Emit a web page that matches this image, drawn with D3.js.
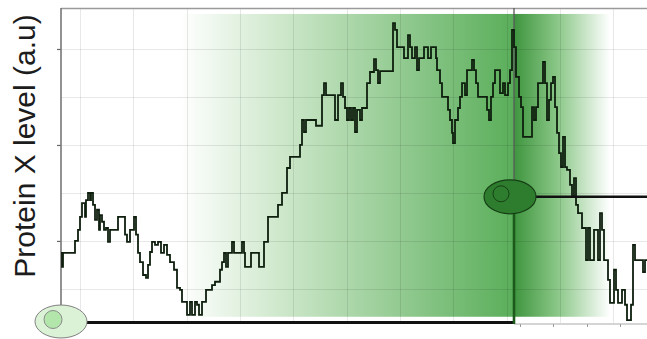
<!DOCTYPE html>
<html>
<head>
<meta charset="utf-8">
<script src="https://cdn.jsdelivr.net/npm/d3@7"></script>
<style>
  html, body { margin: 0; padding: 0; background: #fff; }
  svg { display: block; }
</style>
</head>
<body>
<svg id="chart" width="647" height="339"></svg>
<script>
// Time points (arbitrary minutes) and protein X level (a.u.) of one cell trace
const times = [0,1,2,12,14,17,19,21,23,24,25,27,29,30,32,34,36,38,39,41,43,45,47,49,53,57,61,64,66,69,73,75,77,79,82,85,87,89,91,94,97,100,103,106,109,113,116,119,121,124,126,129,131,134,136,138,141,143,145,148,151,154,157,159,161,163,165,167,171,173,181,183,184,189,190,197,198,201,203,207,215,217,221,225,226,229,237,239,241,243,245,251,255,261,263,265,271,274,277,280,282,284,286,288,290,292,294,296,299,301,306,309,313,315,317,319,331,332,334,336,341,343,346,347,349,351,354,356,358,361,363,366,367,370,373,375,376,379,381,385,387,389,391,392,394,397,399,401,404,406,410,411,413,415,417,424,426,428,430,432,434,437,439,442,444,447,449,451,453,455,458,460,462,469,471,473,475,477,480,482,484,486,488,490,492,494,496,498,500,502,504,506,509,511,513,515,517,519,521,523,525,527,529,531,533,535,537,539,541,543,545,547,549,551,553,555,557,559,561,563,564,566,568,570,572,574,580,582,584,586];
const levels = [1.75,1.46,1.75,1.75,2.00,2.23,2.50,2.79,2.79,2.50,2.85,3.00,2.85,3.00,2.75,2.44,2.65,2.23,2.54,2.40,2.23,2.27,1.98,2.23,2.23,2.50,2.50,2.13,1.98,2.23,2.50,2.13,1.75,1.56,1.29,1.23,1.50,1.77,1.98,1.92,1.98,1.75,1.92,1.71,1.56,1.40,1.02,0.98,0.73,0.73,0.46,0.73,0.46,0.73,0.67,0.46,0.73,0.73,0.98,0.98,1.08,1.15,1.15,1.40,1.56,1.75,1.46,1.75,1.98,1.75,1.98,1.75,1.46,1.46,1.75,1.75,1.46,1.46,1.98,2.50,2.50,2.75,3.00,3.00,3.52,3.75,3.75,4.00,4.52,4.27,4.52,4.52,4.40,5.04,5.29,5.04,5.04,4.52,5.04,5.29,5.00,4.77,4.52,4.77,4.52,4.77,4.27,4.73,4.52,4.77,5.29,5.52,5.79,5.56,5.29,5.54,5.54,6.54,6.40,6.04,6.04,5.81,5.81,6.29,6.04,5.81,6.04,5.56,5.81,5.81,6.04,6.04,5.81,6.04,6.04,5.81,5.56,5.29,5.00,5.00,4.73,4.52,4.25,4.04,4.52,4.77,5.00,5.29,5.04,5.56,5.56,5.77,5.56,5.29,5.00,5.00,4.73,4.52,5.00,5.29,5.56,5.56,5.08,5.29,5.04,5.29,5.56,6.40,6.04,5.42,5.00,4.79,4.17,4.17,4.79,4.52,4.79,5.29,5.29,5.73,5.29,4.52,4.94,5.29,5.42,4.79,4.25,3.83,3.54,4.17,3.54,3.48,3.17,2.92,3.31,2.75,2.58,2.58,2.27,2.27,1.60,2.27,1.60,1.60,2.23,2.23,1.60,2.58,2.23,1.60,1.60,1.19,0.71,0.71,1.40,0.98,0.71,0.71,0.98,0.98,0.67,0.35,0.35,0.67,1.92,1.60,1.60,1.35,1.60,1.60];

// Axis settings
const yTickValues = [2, 4, 6];
const yGridValues = [1, 2, 3, 4, 5, 6];
const xGridValues = [19, 72, 126, 179, 232, 286, 339, 392, 446, 499, 552];
const xTickValues = [459, 492, 526, 559];

// Marked events: start of trace, threshold crossing, and the induction window
const startTime = 0;
const crossTime = 449;
const thresholdLevel = 2.92;
const windowStart = 119;
const windowPeak = 453;
const windowEnd = 549;
const windowTop = 6.73;
const windowBottom = 0.42;
const yLabel = "Protein X level (a.u)";

const svg = d3.select("#chart");
const x = d3.scaleLinear().domain([0, 586]).range([61, 647]);
const y = d3.scaleLinear().domain([0.29, 6.854]).range([323, 8]);

const defs = svg.append("defs");
const gRise = defs.append("linearGradient").attr("id", "rise")
  .attr("x1", "0%").attr("x2", "100%").attr("y1", "0%").attr("y2", "0%");
gRise.append("stop").attr("offset", "0%").attr("stop-color", "#ffffff");
gRise.append("stop").attr("offset", "35%").attr("stop-color", "#c6e4c3");
gRise.append("stop").attr("offset", "100%").attr("stop-color", "#5aae5a");
const gFall = defs.append("linearGradient").attr("id", "fall")
  .attr("x1", "0%").attr("x2", "100%").attr("y1", "0%").attr("y2", "0%");
gFall.append("stop").attr("offset", "0%").attr("stop-color", "#3f953f");
gFall.append("stop").attr("offset", "45%").attr("stop-color", "#8ac787");
gFall.append("stop").attr("offset", "100%").attr("stop-color", "#ffffff");

// Induction window shading
svg.append("rect")
  .attr("x", x(windowStart)).attr("y", y(windowTop))
  .attr("width", x(windowPeak) - x(windowStart))
  .attr("height", y(windowBottom) - y(windowTop))
  .attr("fill", "url(#rise)");
svg.append("rect")
  .attr("x", x(windowPeak)).attr("y", y(windowTop))
  .attr("width", x(windowEnd) - x(windowPeak))
  .attr("height", y(windowBottom) - y(windowTop))
  .attr("fill", "url(#fall)");

// Grid
const grid = svg.append("g").attr("stroke", "rgba(0,0,0,0.09)").attr("stroke-width", 1);
grid.selectAll(".gy").data(yGridValues).join("line")
  .attr("x1", x(0)).attr("x2", x(586))
  .attr("y1", d => Math.round(y(d)) + 0.5).attr("y2", d => Math.round(y(d)) + 0.5);
grid.selectAll(".gx").data(xGridValues).join("line")
  .attr("y1", y(6.854)).attr("y2", y(0.29))
  .attr("x1", d => Math.round(x(d)) + 0.5).attr("x2", d => Math.round(x(d)) + 0.5);

// Frame: top border and left axis
svg.append("line").attr("x1", x(0)).attr("x2", x(586)).attr("y1", 8.5).attr("y2", 8.5)
  .attr("stroke", "#9a9a9a").attr("stroke-width", 1.5);
const yAxis = d3.axisLeft(y).tickValues(yTickValues).tickSize(4).tickFormat("");
const yAxisG = svg.append("g").attr("transform", `translate(${x(0)},0)`).call(yAxis);
yAxisG.select(".domain").remove();
yAxisG.selectAll(".tick line").attr("stroke", "#666").attr("stroke-width", 1.2);
svg.append("line").attr("x1", x(0)).attr("x2", x(0)).attr("y1", 8).attr("y2", y(0.29) - 17)
  .attr("stroke", "#777").attr("stroke-width", 1.6);

// Bottom axis to the right of the crossing marker
const xAxis = d3.axisBottom(x).tickValues(xTickValues).tickSize(3).tickFormat("");
const xAxisG = svg.append("g").attr("transform", `translate(0,${y(0.29) + 1})`).call(xAxis);
xAxisG.select(".domain").remove();
xAxisG.selectAll(".tick line").attr("stroke", "#999");
svg.append("line").attr("x1", x(windowPeak)).attr("x2", x(586))
  .attr("y1", y(0.29) + 1).attr("y2", y(0.29) + 1)
  .attr("stroke", "#aaa").attr("stroke-width", 1);

// Marker line at the threshold crossing (upper thin part)
svg.append("line").attr("x1", x(windowPeak)).attr("x2", x(windowPeak))
  .attr("y1", 8).attr("y2", y(thresholdLevel) - 14)
  .attr("stroke", "#5a5a5a").attr("stroke-width", 1.3);

// Trace
const pts = times.map((t, i) => [t, levels[i]]);
const line = d3.line().x(d => x(d[0])).y(d => y(d[1])).curve(d3.curveStepAfter);
svg.append("path").datum(pts)
  .attr("d", line)
  .attr("fill", "none")
  .attr("stroke", "#0e1f0e")
  .attr("stroke-width", 1.8)
  .attr("stroke-linejoin", "miter");

// Time axis from start to crossing, and threshold line
svg.append("line").attr("x1", x(startTime) + 26).attr("x2", x(windowPeak) + 1)
  .attr("y1", y(0.29) - 0.5).attr("y2", y(0.29) - 0.5)
  .attr("stroke", "#111").attr("stroke-width", 3);
svg.append("line").attr("x1", x(windowPeak)).attr("x2", x(windowPeak))
  .attr("y1", y(thresholdLevel) + 14).attr("y2", y(0.29) + 1)
  .attr("stroke", "#1b5a1b").attr("stroke-width", 2.6);
svg.append("line").attr("x1", x(crossTime) + 25).attr("x2", x(586))
  .attr("y1", y(thresholdLevel)).attr("y2", y(thresholdLevel))
  .attr("stroke", "#111").attr("stroke-width", 2.6);

// Cells: low-expressing at the start, high-expressing at the crossing
svg.append("ellipse").attr("cx", x(startTime)).attr("cy", y(0.29) - 1.5)
  .attr("rx", 26).attr("ry", 16.5)
  .attr("fill", "#dcf2d6").attr("stroke", "#808080").attr("stroke-width", 1);
svg.append("circle").attr("cx", x(startTime) - 8).attr("cy", y(0.29) - 3.5).attr("r", 9)
  .attr("fill", "#b3e6ab").attr("stroke", "#8a8a8a").attr("stroke-width", 1);
svg.append("ellipse").attr("cx", x(crossTime)).attr("cy", y(thresholdLevel))
  .attr("rx", 26).attr("ry", 17)
  .attr("fill", "#2e7d2e").attr("stroke", "#163f16").attr("stroke-width", 1.2);
svg.append("circle").attr("cx", x(crossTime) - 9).attr("cy", y(thresholdLevel) - 3).attr("r", 8)
  .attr("fill", "none").attr("stroke", "#163f16").attr("stroke-width", 1);

// Y axis title
svg.append("text")
  .attr("transform", `translate(35,146) rotate(-90)`)
  .attr("text-anchor", "middle")
  .attr("font-family", "'Liberation Sans', Arial, sans-serif")
  .attr("font-size", 30)
  .attr("fill", "#1c1c1c")
  .text(yLabel);
</script>
</body>
</html>
